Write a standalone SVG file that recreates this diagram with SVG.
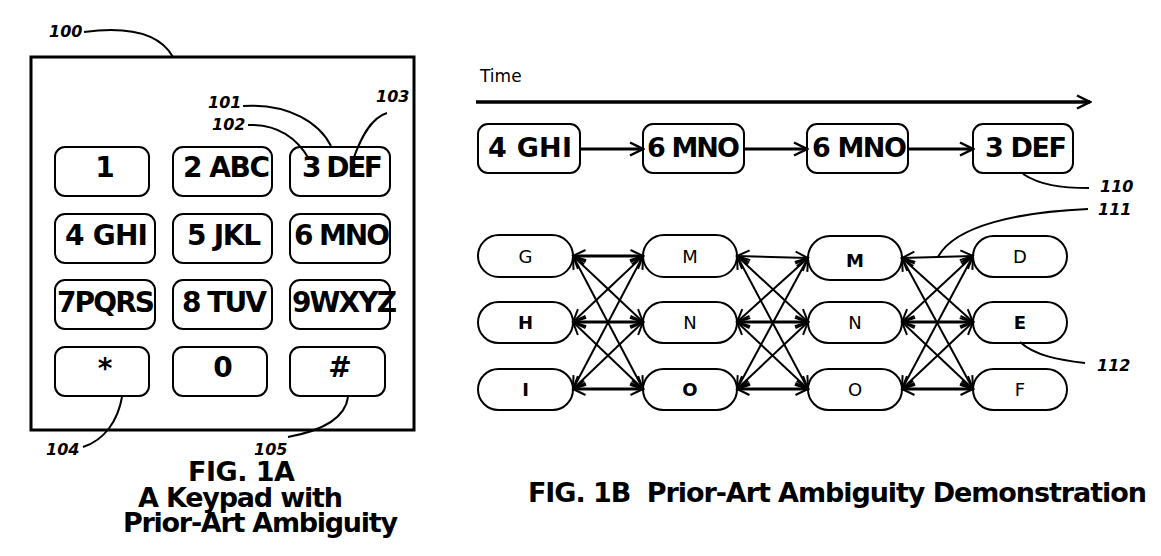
<svg xmlns="http://www.w3.org/2000/svg" width="1161" height="556" viewBox="0 0 1161 556">
<style>
.k{fill:#fff;stroke:#000;stroke-width:2}
.kt{font-family:"DejaVu Sans",Verdana,sans-serif;font-weight:bold;font-size:28px;fill:#000}
.st{font-family:"DejaVu Sans",Verdana,sans-serif;font-weight:bold;font-size:27px;fill:#000}
.lb{font-family:"DejaVu Sans",Verdana,sans-serif;font-weight:bold;font-style:italic;font-size:16px;fill:#000}
.nt{font-family:"DejaVu Sans",Verdana,sans-serif;font-size:18px;fill:#000;text-anchor:middle}
.b{font-weight:bold}
.cap{font-family:"DejaVu Sans",Verdana,sans-serif;font-weight:bold;font-size:27px;fill:#000}
.ld{fill:none;stroke:#000;stroke-width:2}
.e{stroke:#000;stroke-width:2;marker-start:url(#ah);marker-end:url(#ah)}
.eh{stroke-width:3}
</style>
<defs>
<marker id="ah" markerUnits="userSpaceOnUse" markerWidth="15" markerHeight="15" viewBox="0 0 15 15" refX="13.5" refY="7.5" orient="auto-start-reverse">
<path d="M1,1.5 L13.5,7.5 L1,13.5" fill="none" stroke="#000" stroke-width="2"/>
</marker>
<marker id="ta" markerUnits="userSpaceOnUse" markerWidth="16" markerHeight="16" viewBox="0 0 16 16" refX="14" refY="8" orient="auto">
<path d="M1,1.5 L14,8 L1,14.5" fill="none" stroke="#000" stroke-width="2.5"/>
</marker>
</defs>
<rect width="1161" height="556" fill="#fff"/>

<!-- FIG 1A keypad -->
<g id="keypad">
<rect x="31" y="57" width="383" height="373" fill="none" stroke="#000" stroke-width="3"/>
</g>
<g id="key1"><rect class="k" x="55" y="147" width="94" height="49" rx="10"/><text class="kt" x="105" y="177" text-anchor="middle">1</text></g>
<g id="key2"><rect class="k" x="173" y="147" width="99" height="49" rx="10"/><text class="kt" x="183" y="177" textLength="87" lengthAdjust="spacing">2 ABC</text></g>
<g id="key3"><rect class="k" x="290" y="147" width="100" height="49" rx="10"/><text class="kt" x="302" y="177" textLength="81" lengthAdjust="spacing">3 DEF</text></g>
<g id="key4"><rect class="k" x="55" y="214" width="100" height="49" rx="10"/><text class="kt" x="65" y="245" textLength="83" lengthAdjust="spacing">4 GHI</text></g>
<g id="key5"><rect class="k" x="173" y="214" width="99" height="49" rx="10"/><text class="kt" x="187" y="245" textLength="74" lengthAdjust="spacing">5 JKL</text></g>
<g id="key6"><rect class="k" x="290" y="214" width="100" height="49" rx="10"/><text class="kt" x="294" y="245" textLength="96" lengthAdjust="spacing">6 MNO</text></g>
<g id="key7"><rect class="k" x="55" y="280" width="100" height="49" rx="10"/><text class="kt" x="57" y="312" textLength="98" lengthAdjust="spacing">7PQRS</text></g>
<g id="key8"><rect class="k" x="173" y="280" width="99" height="49" rx="10"/><text class="kt" x="182" y="312" textLength="85" lengthAdjust="spacing">8 TUV</text></g>
<g id="key9"><rect class="k" x="290" y="280" width="100" height="49" rx="10"/><text class="kt" x="292" y="312" textLength="105" lengthAdjust="spacing">9WXYZ</text></g>
<g id="keystar"><rect class="k" x="55" y="347" width="94" height="49" rx="10"/><text class="kt" x="105" y="378" text-anchor="middle">*</text></g>
<g id="key0"><rect class="k" x="173" y="347" width="94" height="49" rx="10"/><text class="kt" x="223" y="377" text-anchor="middle">0</text></g>
<g id="keyhash"><rect class="k" x="290" y="347" width="95" height="49" rx="10"/><text class="kt" x="340" y="377" text-anchor="middle">#</text></g>

<!-- reference labels -->
<g id="labels">
<text class="lb" x="49" y="37">100</text>
<text class="lb" x="208" y="108">101</text>
<text class="lb" x="212" y="130">102</text>
<text class="lb" x="376" y="102">103</text>
<text class="lb" x="46" y="455">104</text>
<text class="lb" x="254" y="455">105</text>
<text class="lb" x="1100" y="192">110</text>
<text class="lb" x="1098" y="215">111</text>
<text class="lb" x="1097" y="371">112</text>
</g>

<!-- FIG 1B -->
<text id="time" x="480" y="82" font-family="DejaVu Sans, Verdana, sans-serif" font-size="17">Time</text>

<g id="s1"><rect class="k" x="478" y="124" width="102" height="49" rx="10"/><text class="st" x="488" y="157" textLength="84" lengthAdjust="spacing">4 GHI</text></g>
<g id="s2"><rect class="k" x="643" y="124" width="101" height="49" rx="10"/><text class="st" x="647" y="157" textLength="93" lengthAdjust="spacing">6 MNO</text></g>
<g id="s3"><rect class="k" x="807" y="124" width="101" height="49" rx="10"/><text class="st" x="812" y="157" textLength="95" lengthAdjust="spacing">6 MNO</text></g>
<g id="s4"><rect class="k" x="973" y="124" width="100" height="49" rx="10"/><text class="st" x="985" y="157" textLength="82" lengthAdjust="spacing">3 DEF</text></g>

<g id="nG"><rect class="k" x="478" y="235" width="95" height="42" rx="21"/><text class="nt" x="525.5" y="263">G</text></g>
<g id="nH"><rect class="k" x="478" y="302" width="95" height="41" rx="20.5"/><text class="nt b" x="525.5" y="329">H</text></g>
<g id="nI"><rect class="k" x="478" y="369" width="95" height="41" rx="20.5"/><text class="nt b" x="525.5" y="396">I</text></g>
<g id="nM1"><rect class="k" x="643" y="235" width="94" height="42" rx="21"/><text class="nt" x="690" y="263">M</text></g>
<g id="nN1"><rect class="k" x="643" y="302" width="94" height="41" rx="20.5"/><text class="nt" x="690" y="329">N</text></g>
<g id="nO1"><rect class="k" x="643" y="369" width="94" height="41" rx="20.5"/><text class="nt b" x="690" y="396">O</text></g>
<g id="nM2"><rect class="k" x="808" y="236" width="94" height="44" rx="22"/><text class="nt b" x="855" y="267" font-size="22">M</text></g>
<g id="nN2"><rect class="k" x="808" y="302" width="94" height="41" rx="20.5"/><text class="nt" x="855" y="329">N</text></g>
<g id="nO2"><rect class="k" x="808" y="369" width="94" height="41" rx="20.5"/><text class="nt" x="855" y="396">O</text></g>
<g id="nD"><rect class="k" x="973" y="236" width="94" height="41" rx="20.5"/><text class="nt" x="1020" y="263">D</text></g>
<g id="nE"><rect class="k" x="973" y="302" width="94" height="41" rx="20.5"/><text class="nt b" x="1020" y="329">E</text></g>
<g id="nF"><rect class="k" x="973" y="369" width="94" height="41" rx="20.5"/><text class="nt" x="1020" y="396">F</text></g>

<g id="connectors">
<!-- leaders -->
<path class="ld" d="M84 32 C130 26 160 34 173 57"/>
<path class="ld" d="M243 106 C290 103 320 124 331 146"/>
<path class="ld" d="M248 125 C280 124 298 140 309 159"/>
<path class="ld" d="M387 113 C370 118 360 140 353 160"/>
<path class="ld" d="M83 447 C105 440 118 420 122 397"/>
<path class="ld" d="M288 437 C320 431 345 420 348 397"/>
<path class="ld" d="M1023 174 C1040 185 1060 188 1089 188"/>
<path class="ld" d="M938 257 C955 225 1020 212 1088 209"/>
<path class="ld" d="M1020 342 C1035 356 1060 360 1085 363"/>
<!-- time axis -->
<line x1="476" y1="102" x2="1090" y2="102" stroke="#000" stroke-width="3.5" marker-end="url(#ta)"/>
<!-- sequence arrows -->
<line x1="580" y1="149" x2="643" y2="149" stroke="#000" stroke-width="3" marker-end="url(#ta)"/>
<line x1="744" y1="149" x2="807" y2="149" stroke="#000" stroke-width="3" marker-end="url(#ta)"/>
<line x1="908" y1="149" x2="973" y2="149" stroke="#000" stroke-width="3" marker-end="url(#ta)"/>
<!-- lattice col1-col2 -->
<line class="e eh" x1="573" y1="256" x2="643" y2="256"/>
<line class="e" x1="573" y1="256" x2="643" y2="322"/>
<line class="e" x1="573" y1="256" x2="643" y2="389"/>
<line class="e" x1="573" y1="322" x2="643" y2="256"/>
<line class="e eh" x1="573" y1="322" x2="643" y2="322"/>
<line class="e" x1="573" y1="322" x2="643" y2="389"/>
<line class="e" x1="573" y1="389" x2="643" y2="256"/>
<line class="e" x1="573" y1="389" x2="643" y2="322"/>
<line class="e eh" x1="573" y1="389" x2="643" y2="389"/>
<!-- lattice col2-col3 -->
<line class="e" x1="737" y1="256" x2="808" y2="258"/>
<line class="e" x1="737" y1="256" x2="808" y2="322"/>
<line class="e" x1="737" y1="256" x2="808" y2="389"/>
<line class="e" x1="737" y1="322" x2="808" y2="258"/>
<line class="e eh" x1="737" y1="322" x2="808" y2="322"/>
<line class="e" x1="737" y1="322" x2="808" y2="389"/>
<line class="e" x1="737" y1="389" x2="808" y2="258"/>
<line class="e" x1="737" y1="389" x2="808" y2="322"/>
<line class="e eh" x1="737" y1="389" x2="808" y2="389"/>
<!-- lattice col3-col4 -->
<line class="e" x1="902" y1="258" x2="973" y2="256"/>
<line class="e" x1="902" y1="258" x2="973" y2="322"/>
<line class="e" x1="902" y1="258" x2="973" y2="389"/>
<line class="e" x1="902" y1="322" x2="973" y2="256"/>
<line class="e eh" x1="902" y1="322" x2="973" y2="322"/>
<line class="e" x1="902" y1="322" x2="973" y2="389"/>
<line class="e" x1="902" y1="389" x2="973" y2="256"/>
<line class="e" x1="902" y1="389" x2="973" y2="322"/>
<line class="e eh" x1="902" y1="389" x2="973" y2="389"/>
</g>

<!-- captions -->
<g id="caption1a">
<text class="cap" x="188" y="481" textLength="107" lengthAdjust="spacing">FIG. 1A</text>
<text class="cap" x="138" y="507" textLength="205" lengthAdjust="spacing">A Keypad with</text>
<text class="cap" x="123" y="532" textLength="275" lengthAdjust="spacing">Prior-Art Ambiguity</text>
</g>
<g id="caption1b">
<text class="cap" x="528" y="502" textLength="619" lengthAdjust="spacing" xml:space="preserve">FIG. 1B  Prior-Art Ambiguity Demonstration</text>
</g>
</svg>
